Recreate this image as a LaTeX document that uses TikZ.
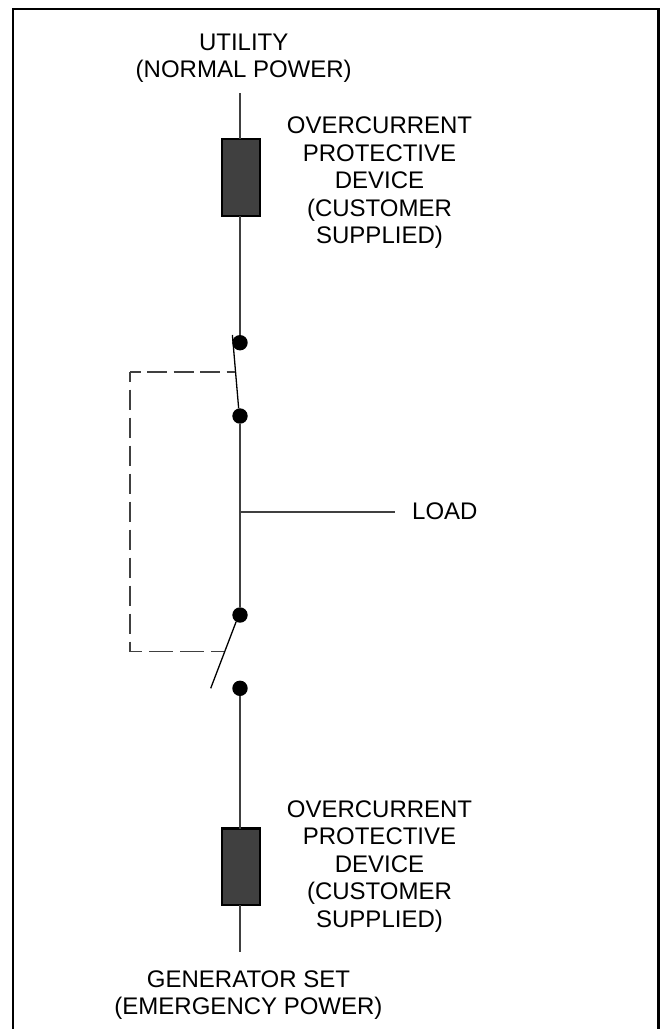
\documentclass[tikz,border=0pt]{standalone}
\usepackage{fontspec}
\setmainfont{Liberation Sans}
\definecolor{fusefill}{HTML}{404040}
\definecolor{wirecol}{HTML}{404040}
\tikzset{
  x=1pt,y=-1pt,
  frameline/.style={line width=2.7pt,black},
  wire/.style={line width=1.2pt,wirecol},
  blade/.style={line width=1.3pt,black},
  linkage/.style={line width=1.2pt,wirecol},
  fuse/.style={draw=black,line width=2.3pt,fill=fusefill,minimum width=38pt,minimum height=76.5pt,inner sep=0pt,outer sep=0pt},
  contact/.style={circle,fill=black,minimum size=15.4pt,inner sep=0pt,outer sep=0pt},
  lbl/.style={align=center,font=\fontsize{24}{27.5}\selectfont,inner sep=0pt,text=black},
}
\begin{document}
\begin{tikzpicture}
\useasboundingbox (0,0) rectangle (660,1029);
\fill[white] (0,0) rectangle (660,1029);
\draw[frameline] (13,1029) -- (13,9) -- (658.3,9) -- (658.3,1029);

\coordinate (utop) at (240,93);
\node[fuse] (f1) at (241,177.5) {};
\node[contact] (c1) at (240,342.7) {};
\node[contact] (c2) at (240,416) {};
\coordinate (tee) at (240,512);
\coordinate (loadend) at (394.5,512);
\node[contact] (c3) at (240,615) {};
\node[contact] (c4) at (240,688.3) {};
\node[fuse] (f2) at (241,866.8) {};
\coordinate (gbot) at (240,951.5);

\draw[wire] (utop) -- (f1.north -| utop);
\draw[wire] (f1.south -| utop) -- (c1);
\draw[wire] (c2) -- (c3);
\draw[wire] (tee) -- (loadend);
\draw[wire] (c4) -- (f2.north -| c4);
\draw[wire] (f2.south -| c4) -- (gbot);

\coordinate (b1top) at (232.4,335);
\coordinate (b1mid) at (235.3,372);
\coordinate (b2bot) at (210.7,688.3);
\coordinate (b2mid) at (224,651.7);
\coordinate (lkTL) at (130,372);
\coordinate (lkBL) at (130,651.7);
\draw[blade] (b1top) -- (c2.100);
\draw[blade] (c3.240) -- (b2bot);
\draw[linkage,dash pattern=on 20pt off 6.5pt,dash phase=9.5pt] (lkTL) -- (b1mid);
\draw[linkage,dash pattern=on 20.5pt off 7.5pt,dash phase=10.5pt] (lkTL) -- (lkBL);
\draw[linkage,dash pattern=on 23.5pt off 7.5pt,dash phase=12pt] (lkBL) -- (b2mid);

\node[lbl] (t1) at (243.7,58) {UTILITY\\(NORMAL POWER)};
\node[lbl] (t2) at (379.5,183) {OVERCURRENT\\PROTECTIVE\\DEVICE\\(CUSTOMER\\SUPPLIED)};
\node[lbl,anchor=west] (t3) at (412,511) {LOAD};
\node[lbl] (t4) at (379.5,866.4) {OVERCURRENT\\PROTECTIVE\\DEVICE\\(CUSTOMER\\SUPPLIED)};
\node[lbl] (t5) at (248.5,995) {GENERATOR SET\\(EMERGENCY POWER)};
\end{tikzpicture}
\end{document}
